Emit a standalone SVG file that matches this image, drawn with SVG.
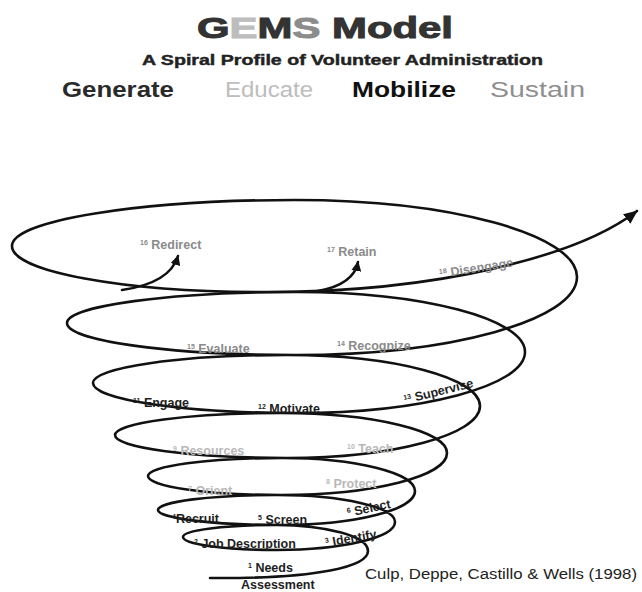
<svg xmlns="http://www.w3.org/2000/svg" width="642" height="592" viewBox="0 0 642 592">
<style>
.t{font-family:"Liberation Sans",Arial,sans-serif;font-weight:bold}
.lbl{font-family:"Liberation Sans",Arial,sans-serif;font-size:12.5px;font-weight:bold}
.sup{font-size:7px}
.dk{fill:#1e1e1e}
.ed{fill:#b8b8b8}
.su{fill:#8a8a8a}
.line{fill:none;stroke:#111;stroke-width:2.6;stroke-linecap:round;stroke-linejoin:round}
</style>
<defs>
<marker id="ah" markerUnits="userSpaceOnUse" markerWidth="16" markerHeight="12" refX="13" refY="6" orient="auto">
<path d="M0,0 L14,6 L0,12 Z" fill="#111"/>
</marker>
<marker id="ahs" markerUnits="userSpaceOnUse" markerWidth="12" markerHeight="10" refX="9" refY="5" orient="auto">
<path d="M0,0 L10,5 L0,10 Z" fill="#111"/>
</marker>
</defs>
<rect width="642" height="592" fill="#fff"/>
<g id="title">
<text class="t" x="197" y="38" font-size="30" stroke-width="1" textLength="256" lengthAdjust="spacingAndGlyphs"><tspan fill="#333" stroke="#333">G</tspan><tspan fill="#bdbdbd" stroke="#bdbdbd">E</tspan><tspan fill="#333" stroke="#333">M</tspan><tspan fill="#8c8c8c" stroke="#8c8c8c">S</tspan><tspan fill="#333" stroke="#333"> Model</tspan></text>
<text class="t" x="142" y="65" font-size="14" fill="#222" stroke="#222" stroke-width="0.4" textLength="401" lengthAdjust="spacingAndGlyphs">A Spiral Profile of Volunteer Administration</text>
<text class="t" x="62" y="97" font-size="22" fill="#2a2a2a" textLength="112" lengthAdjust="spacingAndGlyphs">Generate</text>
<text x="225" y="97" font-family="Liberation Sans,Arial,sans-serif" font-size="22" fill="#bdbdbd" textLength="88" lengthAdjust="spacingAndGlyphs">Educate</text>
<text class="t" x="352" y="97" font-size="22" fill="#111" textLength="104" lengthAdjust="spacingAndGlyphs">Mobilize</text>
<text x="490" y="97" font-family="Liberation Sans,Arial,sans-serif" font-size="22" fill="#8f8f8f" textLength="95" lengthAdjust="spacingAndGlyphs">Sustain</text>
</g>
<g id="connectors">
<path id="spiral" class="line" marker-end="url(#ah)" d="M210,578 C320,579 368,566 368,551
C368,536.6 326.8,525 276,525
C224.7,525 183,530.4 183,537
C183,544.2 225.1,550 277,550
C342.1,550 395,537.5 395,522
C395,507.1 342.1,495 277,495
C211.3,495 158,501.7 158,510
C158,518.3 213.6,525 282,525
C355.4,525 415,509.8 415,491
C415,472.8 355.4,458 282,458
C208,458 148,466.1 148,476
C148,486.5 207.6,495 281,495
C372.6,495 447,476.2 447,453
C447,430.9 372.6,413 281,413
C189.4,413 115,422.9 115,435
C115,447.7 192.1,458 287,458
C393.5,458 480,434.7 480,406
C480,377.8 393.5,355 287,355
C179.9,355 93,367.5 93,383
C93,399.6 183.9,413 296,413
C422.4,413 525,385.7 525,352
C525,318.9 422.4,292 296,292
C169.6,292 67,305.9 67,323
C67,340.7 169.1,355 295,355
C450.7,355 577,320.1 577,277
C577,234.5 450.7,200 295,200
C138.8,200 12,220.6 12,246
C12,271.4 123.1,292 260,292
C440,293 580,255 637,211"/>
<path id="redirect-arrow" class="line" marker-end="url(#ahs)" d="M122,290 C150,286 172,276 178,256"/>
<path id="retain-arrow" class="line" marker-end="url(#ahs)" d="M318,291 C340,287 355,278 358,262"/>
</g>
<g id="n16"><text class="lbl su" x="140" y="249"><tspan class="sup" dy="-4">16</tspan><tspan dy="4"> Redirect</tspan></text></g>
<g id="n17"><text class="lbl su" x="327" y="256"><tspan class="sup" dy="-4">17</tspan><tspan dy="4"> Retain</tspan></text></g>
<g id="n18"><text class="lbl su" x="440" y="278" transform="rotate(-9 440 278)"><tspan class="sup" dy="-4">18</tspan><tspan dy="4"> Disengage</tspan></text></g>
<g id="n15"><text class="lbl su" x="187" y="353"><tspan class="sup" dy="-4">15</tspan><tspan dy="4"> Evaluate</tspan></text></g>
<g id="n14"><text class="lbl su" x="337" y="350"><tspan class="sup" dy="-4">14</tspan><tspan dy="4"> Recognize</tspan></text></g>
<g id="n11"><text class="lbl dk" x="133" y="407"><tspan class="sup" dy="-4">11</tspan><tspan dy="4"> Engage</tspan></text></g>
<g id="n12"><text class="lbl dk" x="258" y="413"><tspan class="sup" dy="-4">12</tspan><tspan dy="4"> Motivate</tspan></text></g>
<g id="n13"><text class="lbl dk" x="405" y="404" transform="rotate(-14 405 404)"><tspan class="sup" dy="-4">13</tspan><tspan dy="4"> Supervise</tspan></text></g>
<g id="n9"><text class="lbl ed" x="173" y="455"><tspan class="sup" dy="-4">9</tspan><tspan dy="4"> Resources</tspan></text></g>
<g id="n10"><text class="lbl ed" x="347" y="453"><tspan class="sup" dy="-4">10</tspan><tspan dy="4"> Teach</tspan></text></g>
<g id="n7"><text class="lbl ed" x="188" y="495"><tspan class="sup" dy="-4">7</tspan><tspan dy="4"> Orient</tspan></text></g>
<g id="n8"><text class="lbl ed" x="326" y="488"><tspan class="sup" dy="-4">8</tspan><tspan dy="4"> Protect</tspan></text></g>
<g id="n4"><text class="lbl dk" x="172" y="523"><tspan class="sup" dy="-4">4</tspan><tspan dy="4">Recruit</tspan></text></g>
<g id="n5"><text class="lbl dk" x="258" y="524"><tspan class="sup" dy="-4">5</tspan><tspan dy="4"> Screen</tspan></text></g>
<g id="n6"><text class="lbl dk" x="348" y="517" transform="rotate(-12 348 517)"><tspan class="sup" dy="-4">6</tspan><tspan dy="4"> Select</tspan></text></g>
<g id="n2"><text class="lbl dk" x="194" y="548"><tspan class="sup" dy="-4">2</tspan><tspan dy="4"> Job Description</tspan></text></g>
<g id="n3"><text class="lbl dk" x="326" y="547" transform="rotate(-10 326 547)"><tspan class="sup" dy="-4">3</tspan><tspan dy="4"> Identify</tspan></text></g>
<g id="n1"><text class="lbl dk" x="248" y="572"><tspan class="sup" dy="-4">1</tspan><tspan dy="4"> Needs</tspan></text><text class="lbl dk" x="241" y="589" font-size="10.5">Assessment</text></g>
<g id="citation"><text x="365" y="579" font-family="Liberation Sans,Arial,sans-serif" font-size="14" fill="#222" textLength="272" lengthAdjust="spacingAndGlyphs">Culp, Deppe, Castillo &amp; Wells (1998)</text></g>
</svg>
